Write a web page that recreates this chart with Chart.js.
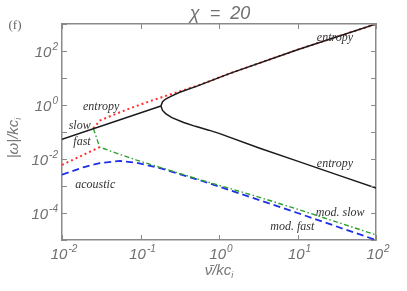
<!DOCTYPE html>
<html><head><meta charset="utf-8">
<script src="https://cdn.jsdelivr.net/npm/chart.js@4"></script>
<style>html,body{margin:0;padding:0;background:#fff}#wrap{width:407px;height:291px}</style>
</head><body><div id="wrap"><canvas id="c" width="407" height="291"></canvas></div>
<script>
// ---- data (nu, |omega|) ----
const slowFastNu  = [0.01, 0.182];
const slowFastOm  = [0.0537, 0.912];
const entUpNu     = [0.182, 0.191, 0.209, 0.240, 0.316, 0.525, 1.38, 10, 100];
const entUpOm     = [0.912, 1.32, 1.66, 2.04, 2.95, 5.01, 14.8, 112, 1000];
const entLoNu     = [0.182, 0.191, 0.209, 0.251, 0.355, 0.501, 0.741, 1, 3.31, 10, 31.6, 100];
const entLoOm     = [0.912, 0.631, 0.479, 0.339, 0.224, 0.162, 0.117, 0.0891, 0.0251, 0.00832, 0.00263, 0.000832];
const redUpNu     = [0.0251, 0.0302, 0.0447, 0.0741, 0.141, 0.263, 0.525, 1.38, 10, 100];
const redUpOm     = [0.135, 0.263, 0.427, 0.759, 1.48, 2.69, 5.13, 14.8, 112, 1000];
const redLoNu     = [0.01, 0.0302];
const redLoOm     = [0.00603, 0.0275];
const greenNu     = [0.0251, 0.0302, 0.0501, 0.0891, 0.178, 0.575, 2.75, 10, 100];
const greenOm     = [0.135, 0.0275, 0.0162, 0.00912, 0.0049, 0.0017, 0.000447, 0.000138, 0.0000155];
const blueNu      = [0.01, 0.0186, 0.0302, 0.055, 0.0891, 0.178, 0.575, 1, 10, 100];
const blueOm      = [0.00263, 0.0049, 0.00708, 0.00851, 0.00724, 0.00457, 0.00162, 0.000955, 0.0001, 0.00001];

const xTickValues = [0.01, 0.1, 1, 10, 100];
const xTickExps   = ['-2', '-1', '0', '1', '2'];
const yTickValues = [1e-5, 1e-4, 1e-3, 1e-2, 1e-1, 1, 10, 100, 1000];
const yLabelValues = [1e-4, 1e-2, 1, 100];
const yLabelExps   = ['-4', '-2', '0', '2'];

const titleText = 'χ = 20';
const panelText = '(f)';
const notes = [
  {t:'entropy', nu:30, om:300},
  {t:'entropy', nu:30, om:0.0065},
  {t:'entropy', nu:0.0315, om:0.89},
  {t:'slow', nu:0.0168, om:0.166},
  {t:'fast', nu:0.018, om:0.042},
  {t:'acoustic', nu:0.0265, om:0.0011},
  {t:'mod. slow', nu:35, om:0.000099},
  {t:'mod. fast', nu:8.6, om:0.0000295}
];

const pts = (xs, ys) => xs.map((v, i) => ({x: v, y: ys[i]}));
const ds = (label, xs, ys, color, width, dash) => ({
  label, data: pts(xs, ys), borderColor: color, borderWidth: width,
  borderDash: dash, pointRadius: 0, fill: false, tension: 0
});

const decadeTicks = vals => s => { s.ticks = vals.map(v => ({value: v})); };

const overlay = {
  id: 'overlay',
  afterDraw(chart) {
    const {ctx, chartArea: a, scales: {x, y}} = chart;
    ctx.save();
    ctx.strokeStyle = '#8a8a8a'; ctx.lineWidth = 1;
    const ln = (x1, y1, x2, y2) => { ctx.beginPath(); ctx.moveTo(x1, y1); ctx.lineTo(x2, y2); ctx.stroke(); };
    xTickValues.forEach(v => { const p = Math.round(x.getPixelForValue(v)) + 0.5; ln(p, a.bottom, p, a.bottom - 5); ln(p, a.top, p, a.top + 5); });
    yTickValues.forEach(v => { const p = Math.round(y.getPixelForValue(v)) + 0.5; ln(a.left, p, a.left + 5, p); ln(a.right, p, a.right - 5, p); });

    const baseF = 'italic 15px "Liberation Sans"', expF = 'italic 10px "Liberation Sans"';
    ctx.fillStyle = '#707070'; ctx.textBaseline = 'middle';
    const pow = (e, px, py, align) => {
      ctx.font = baseF; const w1 = ctx.measureText('10').width;
      ctx.font = expF; const w2 = ctx.measureText(e).width;
      const tot = w1 + w2 + 1;
      let x0 = align === 'right' ? px - tot : px - tot / 2;
      ctx.textAlign = 'left';
      ctx.font = baseF; ctx.fillText('10', x0, py);
      ctx.font = expF; ctx.fillText(e, x0 + w1 + 1, py - 6);
    };
    xTickValues.forEach((v, i) => pow(xTickExps[i], x.getPixelForValue(v) + 2, a.bottom + 15, 'center'));
    yLabelValues.forEach((v, i) => pow(yLabelExps[i], a.left - 4, y.getPixelForValue(v) + 2, 'right'));

    // title
    ctx.textAlign = 'center'; ctx.font = 'italic 18px "Liberation Sans"'; ctx.fillStyle = '#707070';
    ctx.fillText(titleText.replace(/ /g, '  '), (a.left + a.right) / 2 + 1, 14);
    ctx.font = '13px "Liberation Serif"'; ctx.fillStyle = '#666';
    ctx.fillText(panelText, 15, 26);

    // axis titles with subscript
    const sub = (main, s, cx, cy) => {
      ctx.font = 'italic 15px "Liberation Sans"'; const w1 = ctx.measureText(main).width;
      ctx.font = 'italic 9px "Liberation Sans"'; const w2 = ctx.measureText(s).width;
      const x0 = cx - (w1 + w2) / 2;
      ctx.textAlign = 'left';
      ctx.font = 'italic 15px "Liberation Sans"'; ctx.fillText(main, x0, cy);
      ctx.font = 'italic 9px "Liberation Sans"'; ctx.fillText(s, x0 + w1, cy + 4);
    };
    ctx.fillStyle = '#777';
    sub('ν\u0304/kc', 'i', (a.left + a.right) / 2, 271);
    ctx.save(); ctx.translate(14, 138); ctx.rotate(-Math.PI / 2);
    sub('|ω|/kc', 'i', 0, 0);
    ctx.restore();

    // annotations
    ctx.fillStyle = '#333'; ctx.font = 'italic 12px "Liberation Serif"'; ctx.textAlign = 'center';
    notes.forEach(n => ctx.fillText(n.t, x.getPixelForValue(n.nu), y.getPixelForValue(n.om)));
    ctx.restore();
  }
};

new Chart(document.getElementById('c'), {
  type: 'line',
  data: {
    datasets: [
      ds('slow/fast', slowFastNu, slowFastOm, '#1a1a1a', 1.5, []),
      ds('entropy upper', entUpNu, entUpOm, '#1a1a1a', 1.5, []),
      ds('entropy lower', entLoNu, entLoOm, '#1a1a1a', 1.5, []),
      ds('entropy (dotted)', redUpNu, redUpOm, '#ff3030', 2, [2, 3]),
      ds('entropy low (dotted)', redLoNu, redLoOm, '#ff3030', 2, [2, 3]),
      ds('mod. slow', greenNu, greenOm, '#2ca02c', 1.4, [5, 2.5, 1.5, 2.5]),
      ds('mod. fast', blueNu, blueOm, '#1f2fe8', 1.8, [7, 4])
    ]
  },
  options: {
    responsive: false, animation: false, events: [],
    layout: {padding: 0},
    plugins: {legend: {display: false}, tooltip: {enabled: false}, title: {display: false}},
    scales: {
      x: {type: 'logarithmic', position: 'bottom', min: 0.01, max: 100,
          afterBuildTicks: decadeTicks(xTickValues), afterFit: s => { s.height = 51; },
          ticks: {display: false}, grid: {display: false},
          border: {display: true, color: '#8a8a8a', width: 1.5}},
      x2: {type: 'logarithmic', position: 'top', min: 0.01, max: 100,
          afterBuildTicks: decadeTicks(xTickValues), afterFit: s => { s.height = 24; },
          ticks: {display: false}, grid: {display: false},
          border: {display: true, color: '#8a8a8a', width: 1.5}},
      y: {type: 'logarithmic', position: 'left', min: 1e-5, max: 1000,
          afterBuildTicks: decadeTicks(yTickValues), afterFit: s => { s.width = 62; },
          ticks: {display: false}, grid: {display: false},
          border: {display: true, color: '#8a8a8a', width: 1.5}},
      y2: {type: 'logarithmic', position: 'right', min: 1e-5, max: 1000,
          afterBuildTicks: decadeTicks(yTickValues), afterFit: s => { s.width = 31; },
          ticks: {display: false}, grid: {display: false},
          border: {display: true, color: '#8a8a8a', width: 1.5}}
    }
  },
  plugins: [overlay]
});
</script>
</body></html>
